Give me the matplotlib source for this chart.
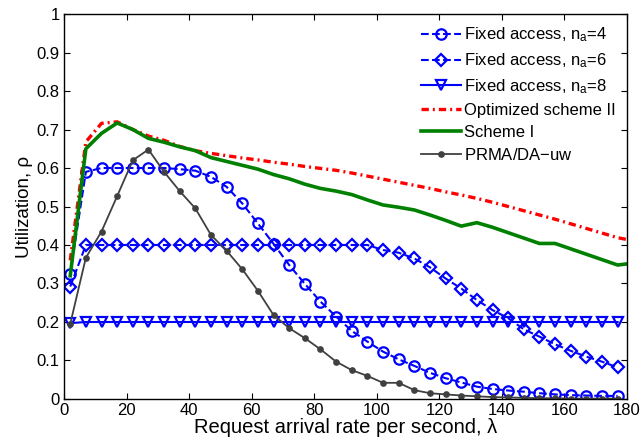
import matplotlib
matplotlib.use("Agg")
import matplotlib.pyplot as plt
import numpy as np

plt.rcParams['font.family'] = ['Liberation Sans', 'DejaVu Sans']
plt.rcParams['mathtext.fontset'] = 'custom'
plt.rcParams['mathtext.rm'] = 'Liberation Sans'
plt.rcParams['mathtext.it'] = 'Liberation Sans'

# arrival rates (points every 5 per second)
lam = np.arange(2, 178, 5)
lam_ext = np.arange(2, 183, 5)

fixed4 = [0.325, 0.59, 0.6, 0.6, 0.6, 0.6, 0.6, 0.597, 0.593, 0.577, 0.551, 0.508,
          0.456, 0.403, 0.348, 0.299, 0.253, 0.214, 0.177, 0.149, 0.123, 0.103,
          0.086, 0.068, 0.054, 0.043, 0.032, 0.026, 0.022, 0.019, 0.015, 0.012,
          0.010, 0.009, 0.008, 0.008]
fixed6 = [0.292, 0.4, 0.4, 0.4, 0.4, 0.4, 0.4, 0.4, 0.4, 0.4, 0.4, 0.4,
          0.4, 0.4, 0.4, 0.4, 0.4, 0.4, 0.4, 0.4, 0.387, 0.38,
          0.365, 0.342, 0.313, 0.287, 0.257, 0.231, 0.21, 0.181, 0.162, 0.142,
          0.125, 0.11, 0.097, 0.082]
fixed8 = [0.197] + [0.2] * 35
scheme2 = [0.36, 0.668, 0.716, 0.72, 0.70, 0.683, 0.672, 0.656, 0.645, 0.638, 0.632,
           0.626, 0.621, 0.615, 0.61, 0.604, 0.599, 0.594, 0.587, 0.579, 0.571,
           0.563, 0.555, 0.547, 0.538, 0.530, 0.521, 0.511, 0.500, 0.489, 0.478,
           0.467, 0.455, 0.443, 0.431, 0.419, 0.411]
scheme1 = [0.32, 0.65, 0.69, 0.717, 0.70, 0.677, 0.667, 0.655, 0.645, 0.627, 0.617,
           0.607, 0.597, 0.583, 0.572, 0.558, 0.547, 0.540, 0.531, 0.517, 0.504,
           0.498, 0.491, 0.478, 0.464, 0.449, 0.458, 0.446, 0.432, 0.418, 0.404,
           0.404, 0.390, 0.376, 0.362, 0.348, 0.353]
prma = [0.195, 0.367, 0.435, 0.527, 0.62, 0.648, 0.59, 0.54, 0.495, 0.426, 0.385,
        0.337, 0.281, 0.218, 0.184, 0.158, 0.129, 0.097, 0.075, 0.06, 0.042,
        0.042, 0.023, 0.015, 0.012, 0.009, 0.007, 0.005, 0.004, 0.003, 0.002,
        0.002, 0.001, 0.001, 0.001, 0.001]

fig = plt.figure(figsize=(6.41, 4.42), dpi=100)
ax = fig.add_axes([0.0998, 0.0973, 0.8784, 0.8710])

blue = '#0000ff'
ax.plot(lam, fixed4, '--o', color=blue, lw=1.5, ms=7.5, mfc='none', mew=1.6,
        label=r'Fixed access, n$_{\mathregular{a}}$=4')
ax.plot(lam, fixed6, '--D', color=blue, lw=1.5, ms=6.4, mfc='none', mew=1.6,
        label=r'Fixed access, n$_{\mathregular{a}}$=6')
ax.plot(lam, fixed8, '-v', color=blue, lw=1.5, ms=7.5, mfc='none', mew=1.6,
        label=r'Fixed access, n$_{\mathregular{a}}$=8')
ax.plot(lam_ext, scheme2, color='#ff0000', lw=2.4,
        linestyle=(0, (2.2, 1.2, 0.6, 1.2)), label='Optimized scheme II')
ax.plot(lam_ext, scheme1, color='#008000', lw=2.6, label='Scheme I')
ax.plot(lam, prma, '-o', color='#404040', lw=1.3, ms=3.8,
        label=r'PRMA/DA$-$uw')

ax.set_xlim(0, 180)
ax.set_ylim(0, 1)
ax.set_xticks(np.arange(0, 181, 20))
ax.set_yticks(np.arange(0, 1.01, 0.1))
ax.set_yticklabels(['0', '0.1', '0.2', '0.3', '0.4', '0.5', '0.6', '0.7',
                    '0.8', '0.9', '1'])
ax.tick_params(direction='in', top=True, right=True, labelsize=12,
               length=4, width=0.8, pad=3)
for s in ax.spines.values():
    s.set_linewidth(1.0)

ax.set_xlabel('Request arrival rate per second, λ', fontsize=14.5, labelpad=0)
ax.set_ylabel('Utilization, ρ', fontsize=13.5, labelpad=3)

ax.legend(loc='upper right', frameon=False, fontsize=12, handlelength=2.4,
          handletextpad=0.15, labelspacing=0.42, borderaxespad=0.3)

fig.savefig('out.png', dpi=100)
